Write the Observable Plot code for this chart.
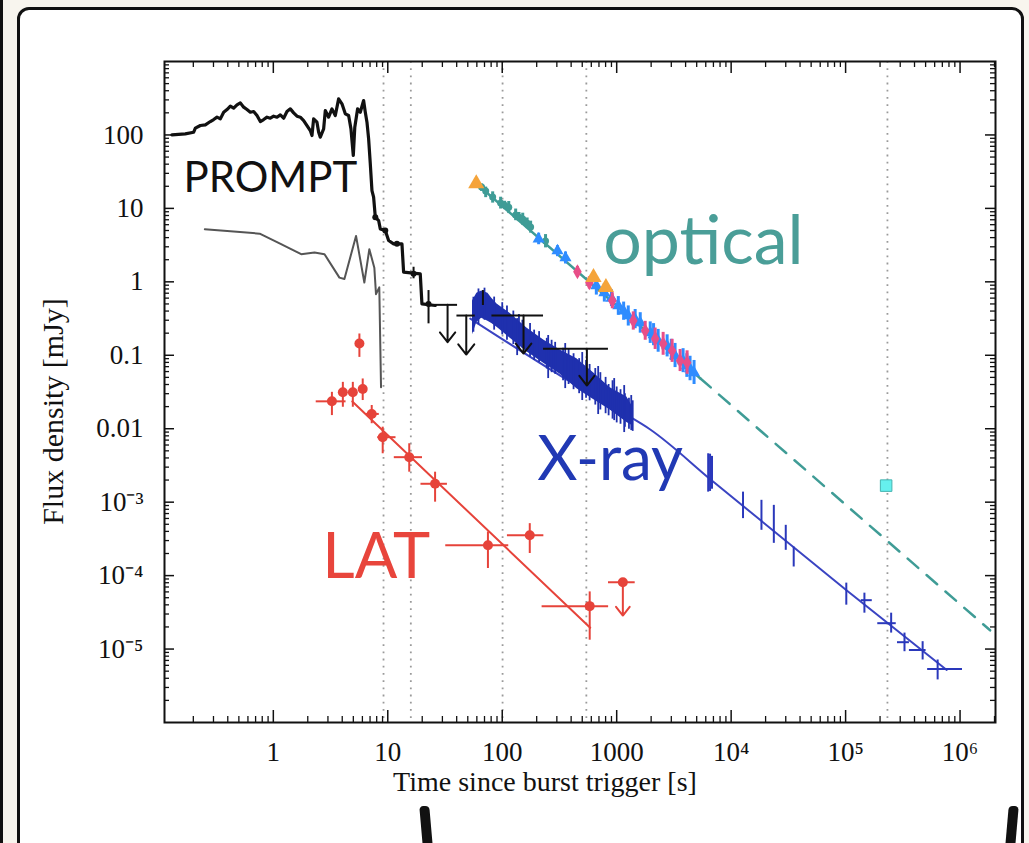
<!DOCTYPE html>
<html><head><meta charset="utf-8">
<script src="https://cdn.jsdelivr.net/npm/d3@7"></script>
<script src="https://cdn.jsdelivr.net/npm/@observablehq/plot@0.6"></script>
<style>
html,body{margin:0;padding:0;}
body{width:1029px;height:843px;overflow:hidden;background:#f8f5ee;position:relative;color:#111;font-family:"Liberation Serif",serif;}
#lbar{position:absolute;left:0;top:0;width:3px;height:843px;background:#111;}
#card{position:absolute;left:17px;top:7px;width:1001px;height:900px;border:3.5px solid #111;border-radius:12px;background:#fff;}
#chart{position:absolute;left:0;top:0;}
.m1{position:absolute;left:421px;top:806px;width:10px;height:40px;background:#111;transform:skewX(5deg);border-radius:4px 4px 0 0;}
.m2{position:absolute;left:1007px;top:806px;width:10px;height:40px;background:#111;transform:skewX(-5deg);border-radius:4px 4px 0 0;}
</style></head>
<body>
<div id="lbar"></div>
<div id="card"></div>
<div class="m1"></div><div class="m2"></div>
<div id="chart"></div>
<script>
// ---------- data (time [s], flux density [mJy]) ----------
const xTickValues = [1, 10, 100, 1000, 1e4, 1e5, 1e6];
const xTickLabels = ["1", "10", "100", "1000", "10\u2074", "10\u2075", "10\u2076"];
const yTickValues = [100, 10, 1, 0.1, 0.01, 1e-3, 1e-4, 1e-5];
const yTickLabels = ["100", "10", "1", "0.1", "0.01", "10\u207B\u00B3", "10\u207B\u2074", "10\u207B\u2075"];
const markerTimes = [9.18, 15.9, 100.7, 543, 232000];

const promptCurve = [[0.130,100.3],[0.170,103.5],[0.2014,109],[0.2084,123.6],[0.2304,134.4],[0.2547,137.3],[0.2817,152.3],[0.3012,162.2],[0.3221,174.5],[0.3444,165.6],[0.3683,204],[0.3939,221.9],[0.4211,246.4],[0.4503,231.4],[0.4816,256.9],[0.515,273.5],[0.5507,238.8],[0.5888,221.9],[0.6296,204],[0.6732,208.4],[0.7201,183.8],[0.77,152.3],[0.8234,162.2],[0.8805,174.5],[0.9415,169],[1.007,180],[1.077,174.5],[1.151,187.7],[1.231,169],[1.316,208.4],[1.408,226.5],[1.505,199.8],[1.610,180],[1.721,174.5],[1.841,157.2],[1.968,134.4],[2.104,114.9],[2.176,98.2],[2.250,165.6],[2.406,149.1],[2.489,109],[2.573,93.2],[2.752,121],[2.845,215],[3.042,174.5],[3.253,226.5],[3.479,183.8],[3.720,310],[3.978,265],[4.254,193.7],[4.549,183.8],[4.767,121],[4.997,52.5],[5.150,127.5],[5.452,226.5],[5.75,204],[6.15,294.2],[6.362,204],[6.579,149.1],[6.802,88.5],[7.035,40.4],[7.273,17.51],[7.52,14.2],[7.78,7.59],[8.04,7.2],[8.32,6.83],[8.6,5.26],[9.51,4.99],[10.17,3.65],[11.24,3.29],[13.3,3.29],[13.75,1.352],[19.22,1.284],[19.88,0.501],[26.0,0.476]];
const promptMarkers = [[7.78,7.59],[9.51,4.99],[12.02,3.29],[16.8,1.284],[22.7,0.501]];
const promptErrors = [[16.8,1.10,1.58],[22.7,0.268,0.761],[67.8,0.476,0.761]];
// upper limits: [t, f, tStart, tEnd, fArrowTip]
const promptLimits = [[33.3,0.486,26.0,40.7,0.1505],[48.5,0.3476,40.2,58.1,0.1023],[153.5,0.3476,81.3,229.5,0.1056],[549,0.1224,229.5,847,0.0387]];

const grayCurve = [[0.252,5.2],[0.76,4.53],[1.10,3.42],[1.75,2.38],[2.29,2.50],[2.80,2.38],[3.78,1.14],[4.18,1.09],[5.28,4.22],[6.24,0.98],[6.90,2.78],[7.63,1.56],[7.89,0.68],[8.43,0.84],[8.73,0.0366]];

// LAT: [t, f, tLo, tHi, fLo, fHi]
const latPoints = [[3.25,0.0236,2.37,4.32,0.0151,0.0313],[4.05,0.0313,3.75,4.35,0.0196,0.0428],[4.95,0.0313,4.6,5.3,0.0196,0.0428],[6.04,0.0348,5.75,6.3,0.0242,0.0476],[5.65,0.145,5.5,5.8,0.0936,0.195],[7.24,0.0159,6.46,8.43,0.0117,0.0207],[9.03,0.00767,8.17,11.8,0.00456,0.0105],[15.4,0.0041,11.4,20.1,0.00256,0.00624],[25.9,0.00178,19.5,33.2,0.001,0.00256],[75,0.000259,32.1,114,0.000125,0.000393],[174,0.000354,111,231,0.0002,0.00051],[581,3.84e-5,223,850,1.32e-5,6.0e-5]];
const latLimit = [[1132,8.12e-5,848,1451,2.86e-5]];
const latFit = [[4.9,0.0235],[587,1.95e-5]];

// X-ray: band [t, fHigh, fLow], error bars [t, fLow, fHigh], late [t, f, fLo, fHi, tLo, tHi]
const xrayBand = [[55,0.55,0.19],[60,0.70,0.28],[66,0.75,0.32],[75,0.70,0.29],[81,0.60,0.27],[90,0.50,0.24],[117.5,0.37,0.17],[164,0.235,0.112],[230,0.162,0.078],[321,0.118,0.055],[449,0.09,0.035],[627,0.058,0.025],[877,0.036,0.018],[1227,0.027,0.0122],[1403,0.019,0.0108]];
const xrayBars = [[56,0.206,0.617],[62,0.26,0.80],[70,0.30,0.82],[85,0.22,0.62],[100,0.19,0.52],[110,0.16,0.47],[125,0.14,0.40],[135,0.099,0.316],[140,0.12,0.36],[150,0.125,0.30],[175,0.095,0.27],[190,0.085,0.22],[210,0.08,0.21],[245,0.065,0.17],[252,0.0482,0.186],[270,0.058,0.16],[290,0.055,0.15],[340,0.045,0.125],[355,0.0352,0.1445],[380,0.040,0.12],[420,0.034,0.105],[470,0.030,0.09],[500,0.0242,0.109],[540,0.026,0.085],[580,0.024,0.075],[650,0.021,0.066],[689,0.0156,0.0703],[720,0.018,0.058],[800,0.016,0.05],[850,0.015,0.04],[920,0.0135,0.045],[951,0.0129,0.0482],[1000,0.012,0.037],[1080,0.0115,0.034],[1163,0.00887,0.0387],[1180,0.0105,0.03],[1280,0.0098,0.026],[1340,0.00944,0.0283],[1380,0.0092,0.024]];
const xrayLate = [[6300,0.0025,0.00137,0.00456,6300,6300],[6540,0.0026,0.0014,0.0045,6540,6540],[6800,0.0024,0.0015,0.0042,6800,6800],[12700,9.05e-4,5.97e-4,1.37e-3,12700,12700],[18400,6.62e-4,4.14e-4,1.06e-3,18400,18400],[23600,5.15e-4,2.75e-4,9.05e-4,23600,23600],[30000,3.54e-4,2.21e-4,4.84e-4,30000,30000],[35200,1.89e-4,1.31e-4,2.45e-4,35200,35200],[101400,5.95e-5,3.96e-5,7.9e-5,101400,101400],[146000,4.63e-5,3.08e-5,5.77e-5,137000,171000],[250000,2.25e-5,1.65e-5,3.08e-5,191000,277000],[327000,1.24e-5,9.2e-6,1.65e-5,284000,361000],[471000,9.7e-6,7.1e-6,1.26e-5,361000,505000],[637000,5.35e-6,3.8e-6,7.1e-6,521000,1.05e6]];
const xrayFit = [[52.6,0.316],[321,0.053],[1074,0.01735],[1963,0.00975],[6780,0.00197],[102400,6.26e-5],[765000,5.2e-6]];

// optical: [t, f, fLo, fHi]
const opticalFitSolid = [[59.3,21.8],[5360,0.0487]];
const opticalFitDashed = [[5360,0.0487],[1.83e6,1.80e-5]];
const opticalTeal = [[66,19.5,17.0,21.5],[71.7,17.2,14.0,19.5],[82.5,14.3,11.8,16.8],[96.8,11.8,9.8,14.2],[105,11.0,9.6,12.5],[114,10.4,8.5,12.4],[131,8.13,6.8,9.8],[140,7.6,6.6,8.8],[151,7.18,5.9,8.6],[165,6.3,5.3,7.4],[177,5.58,4.6,6.7],[239,3.61,2.9,4.4]];
const opticalBlue = [[208,3.84,3.2,4.6],[304,2.64,2.2,3.1],[357,2.12,1.75,2.55],[664,0.883,0.66,1.18],[780,0.709,0.53,0.95],[900,0.6,0.46,0.78],[1033,0.472,0.35,0.63],[1150,0.40,0.30,0.53],[1262,0.345,0.25,0.47],[1450,0.31,0.23,0.42],[1606,0.277,0.20,0.38],[1963,0.203,0.145,0.285],[2100,0.19,0.135,0.27],[2303,0.158,0.11,0.225],[2759,0.135,0.095,0.19],[3000,0.118,0.085,0.165],[3236,0.0988,0.068,0.145],[3802,0.0845,0.058,0.123],[4100,0.072,0.05,0.105],[4375,0.0658,0.045,0.097],[4742,0.058,0.04,0.085]];
const opticalPink = [[454,1.37,1.15,1.62],[577,0.969,0.8,1.17],[916,0.552,0.43,0.71],[1396,0.295,0.22,0.39],[1775,0.216,0.16,0.29],[2168,0.168,0.12,0.235],[2546,0.144,0.10,0.205],[3050,0.115,0.08,0.165],[3581,0.0845,0.06,0.12],[4121,0.0793,0.055,0.115]];
const opticalOrange = [[59.3,21.8],[627,1.155],[805,0.844]];
const lateOptical = [[226000,0.00168]];

const seriesLabels = [
  {label: "PROMPT", t: 0.164, f: 25.5},
  {label: "optical", t: 762, f: 3.45},
  {label: "X-ray", t: 202, f: 0.00369},
  {label: "LAT", t: 2.68, f: 1.73e-4}
];
const axisTitles = {x: "Time since burst trigger [s]", y: "Flux density [mJy]"};

// ---------- chart ----------
const xDomain = [0.112, 2.04e6], yDomain = [1e-6, 1000];
const W = 1029, H = 843, mL = 164, mR = 34, mT = 61, mB = 121;
const fw = W - mL - mR, fh = H - mT - mB;
const minorTicks = (lo, hi) => {
  const out = [];
  for (let e = Math.floor(Math.log10(lo)); e <= Math.ceil(Math.log10(hi)); e++)
    for (let k = 2; k <= 9; k++) { const v = k * Math.pow(10, e); if (v > lo && v < hi) out.push(v); }
  return out;
};
const xMinor = minorTicks(...xDomain);
const yMinor = minorTicks(...yDomain);
const yMajorAll = [1e-5, 1e-4, 1e-3, 0.01, 0.1, 1, 10, 100];
const xLab = new Map(xTickValues.map((v, i) => [v, xTickLabels[i]]));
const yLab = new Map(yTickValues.map((v, i) => [v, yTickLabels[i]]));
const T = d => d[0], F = d => d[1];
const ink = "#111";
const red = "#e6433a", blue = "#1f30ae", teal = "#3f9c96";
const lbl = seriesLabels;

const chart = Plot.plot({
  width: W, height: H,
  marginLeft: mL, marginRight: mR, marginTop: mT, marginBottom: mB,
  style: {background: "transparent", fontFamily: "'Liberation Serif', serif", fontSize: "27px", color: ink},
  x: {type: "log", domain: xDomain},
  y: {type: "log", domain: yDomain},
  marks: [
    Plot.ruleX(markerTimes, {x: d => d, stroke: "#9a9a9a", strokeWidth: 1.8, strokeDasharray: "1.8,5.4"}),
    // ticks (inward)
    Plot.ruleX(xTickValues, {x: d => d, insetTop: fh - 12, stroke: ink, strokeWidth: 1.5}),
    Plot.ruleX(xTickValues, {x: d => d, insetBottom: fh - 12, stroke: ink, strokeWidth: 1.5}),
    Plot.ruleX(xMinor, {x: d => d, insetTop: fh - 6, stroke: ink, strokeWidth: 1.3}),
    Plot.ruleX(xMinor, {x: d => d, insetBottom: fh - 6, stroke: ink, strokeWidth: 1.3}),
    Plot.ruleY(yMajorAll, {y: d => d, insetRight: fw - 10, stroke: ink, strokeWidth: 1.5}),
    Plot.ruleY(yMajorAll, {y: d => d, insetLeft: fw - 10, stroke: ink, strokeWidth: 1.5}),
    Plot.ruleY(yMinor, {y: d => d, insetRight: fw - 5, stroke: ink, strokeWidth: 1.3}),
    Plot.ruleY(yMinor, {y: d => d, insetLeft: fw - 5, stroke: ink, strokeWidth: 1.3}),
    Plot.axisX({anchor: "bottom", ticks: xTickValues, tickSize: 0, tickPadding: 19, tickFormat: d => xLab.get(d), label: null, fontSize: 27}),
    Plot.axisY({anchor: "left", ticks: yTickValues, tickSize: 0, tickPadding: 21, tickFormat: d => yLab.get(d), label: null, fontSize: 27}),
    Plot.text([axisTitles.x], {frameAnchor: "bottom", dy: 60, dx: -35, fontSize: 28, lineAnchor: "middle"}),
    // gray prompt model
    Plot.line(grayCurve, {x: T, y: F, stroke: "#555", strokeWidth: 2}),
    // LAT
    Plot.line(latFit, {x: T, y: F, stroke: red, strokeWidth: 2}),
    Plot.ruleY(latPoints, {y: F, x1: d => d[2], x2: d => d[3], stroke: red, strokeWidth: 2}),
    Plot.ruleX(latPoints, {x: T, y1: d => d[4], y2: d => d[5], stroke: red, strokeWidth: 2}),
    Plot.dot(latPoints, {x: T, y: F, r: 5, fill: red}),
    Plot.ruleY(latLimit, {y: F, x1: d => d[2], x2: d => d[3], stroke: red, strokeWidth: 2}),
    Plot.arrow(latLimit, {x1: T, x2: T, y1: F, y2: d => d[4], stroke: red, strokeWidth: 2, headLength: 13, headAngle: 76}),
    Plot.dot(latLimit, {x: T, y: F, r: 5, fill: red}),
    // X-ray
    Plot.line(xrayFit, {x: T, y: F, stroke: "#3a44c2", strokeWidth: 2, curve: "monotone-x"}),
    Plot.areaY(xrayBand, {x: T, y1: d => d[2], y2: d => d[1], fill: blue, curve: "linear"}),
    Plot.ruleX(xrayBars, {x: T, y1: d => d[1], y2: d => d[2], stroke: blue, strokeWidth: 1.8}),
    Plot.ruleX(xrayLate, {x: T, y1: d => d[2], y2: d => d[3], stroke: "#2a38bb", strokeWidth: 2}),
    Plot.ruleY(xrayLate, {y: F, x1: d => d[4], x2: d => d[5], stroke: "#2a38bb", strokeWidth: 2}),
    // optical
    Plot.line(opticalFitSolid, {x: T, y: F, stroke: teal, strokeWidth: 2.5}),
    Plot.line(opticalFitDashed, {x: T, y: F, stroke: teal, strokeWidth: 2.5, strokeDasharray: "14,11"}),
    Plot.ruleX(opticalTeal, {x: T, y1: d => d[2], y2: d => d[3], stroke: teal, strokeWidth: 3}),
    Plot.dot(opticalTeal, {x: T, y: F, r: 3.5, fill: teal}),
    Plot.ruleX(opticalBlue, {x: T, y1: d => d[2], y2: d => d[3], stroke: "#2f8cff", strokeWidth: 3}),
    Plot.dot(opticalBlue, {x: T, y: F, r: 4.5, fill: "#2f8cff", symbol: "triangle"}),
    Plot.ruleX(opticalPink, {x: T, y1: d => d[2], y2: d => d[3], stroke: "#e84e88", strokeWidth: 3}),
    Plot.dot(opticalPink, {x: T, y: F, r: 4.5, fill: "#e84e88", symbol: "diamond"}),
    Plot.dot(opticalOrange, {x: T, y: F, r: 6, fill: "#f5a43a", symbol: "triangle"}),
    Plot.dot(lateOptical, {x: T, y: F, r: 6.5, fill: "#66f0ee", stroke: "#45b3b0", strokeWidth: 1, symbol: "square"}),
    // prompt (black)
    Plot.line(promptCurve, {x: T, y: F, stroke: ink, strokeWidth: 3.2, strokeLinejoin: "round"}),
    Plot.dot(promptMarkers, {x: T, y: F, r: 3, fill: ink}),
    Plot.ruleX(promptErrors, {x: T, y1: d => d[1], y2: d => d[2], stroke: ink, strokeWidth: 2}),
    Plot.ruleY(promptLimits, {y: F, x1: d => d[2], x2: d => d[3], stroke: ink, strokeWidth: 2}),
    Plot.arrow(promptLimits, {x1: T, x2: T, y1: F, y2: d => d[4], stroke: ink, strokeWidth: 2, headLength: 14, headAngle: 76}),
    Plot.frame({stroke: ink, strokeWidth: 2}),
    // series labels
    Plot.text([lbl[0]], {x: "t", y: "f", text: "label", fill: ink, fontSize: 42, fontFamily: "Lato", textAnchor: "start", lineAnchor: "middle"}),
    Plot.text([lbl[1]], {x: "t", y: "f", text: "label", fill: "#4a9e98", fontSize: 68, fontFamily: "Lato", textAnchor: "start", lineAnchor: "middle"}),
    Plot.text([lbl[2]], {x: "t", y: "f", text: "label", fill: "#2139b4", fontSize: 62, fontFamily: "Lato", textAnchor: "start", lineAnchor: "middle"}),
    Plot.text([lbl[3]], {x: "t", y: "f", text: "label", fill: "#e8453c", fontSize: 63, fontFamily: "Lato", textAnchor: "start", lineAnchor: "middle"})
  ]
});
// y-axis title, rotated, placed left of the tick labels
d3.select(chart).append("text")
  .attr("transform", `translate(${mL - 111},${(mT + H - mB) / 2 + 20}) rotate(-90)`)
  .attr("text-anchor", "middle").attr("dy", "0.32em")
  .attr("font-size", 30).attr("fill", ink)
  .text(axisTitles.y);
document.getElementById("chart").appendChild(chart);
</script>
</body></html>
